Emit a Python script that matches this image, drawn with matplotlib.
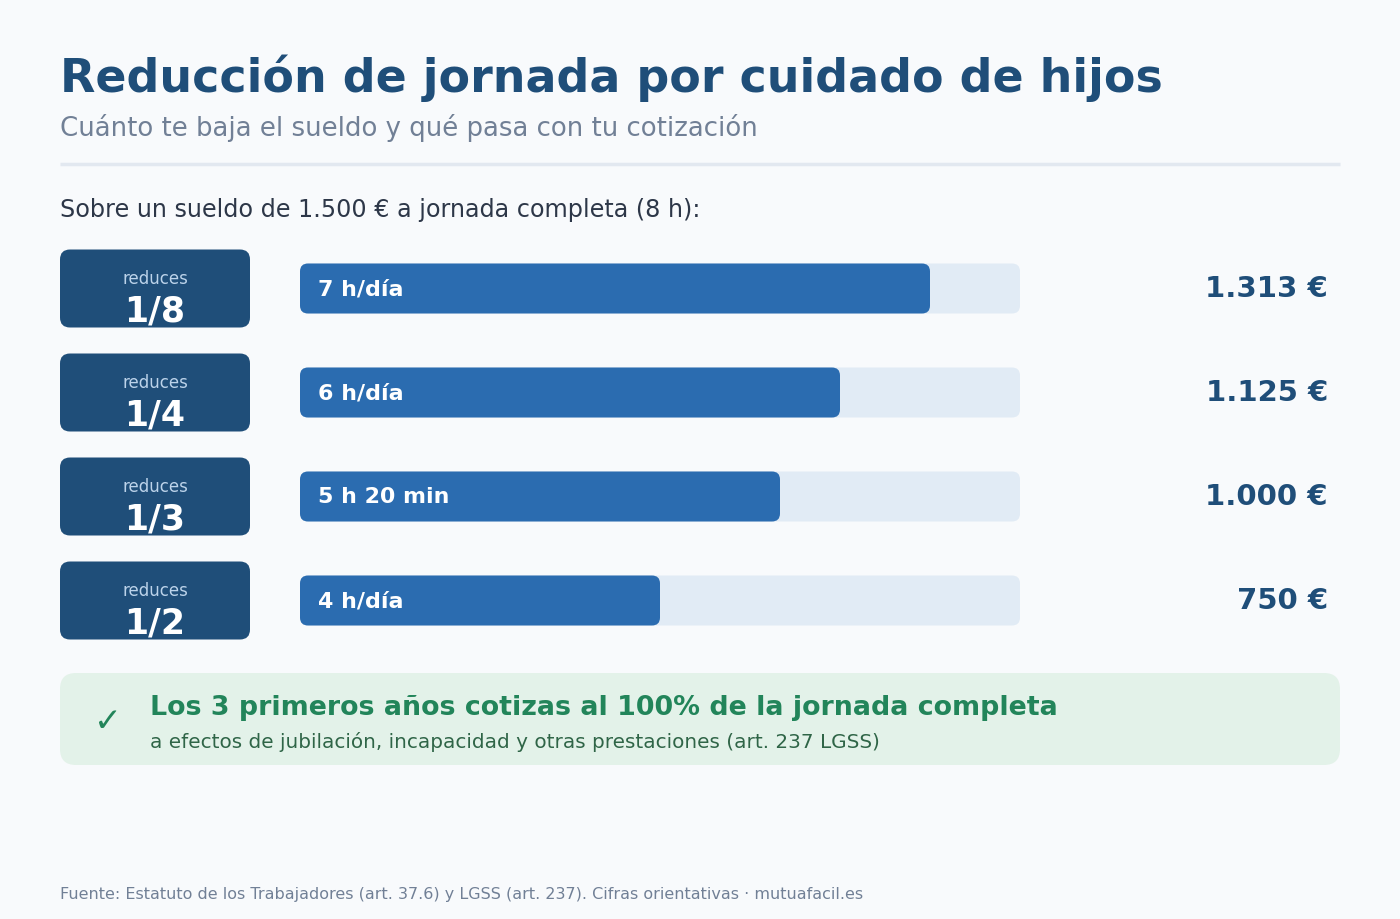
import matplotlib
matplotlib.use("Agg")
import matplotlib.pyplot as plt
from matplotlib.patches import FancyBboxPatch

plt.rcParams["font.family"] = ["DejaVu Sans"]

# Data
FULL_HOURS = 8
fractions = ["1/8", "1/4", "1/3", "1/2"]
hour_labels = ["7 h/día", "6 h/día", "5 h 20 min", "4 h/día"]
hours = [7, 6, 16 / 3, 4]
salaries = ["1.313 €", "1.125 €", "1.000 €", "750 €"]

# Colours
BG = "#f8fafc"
NAVY = "#1f4e79"
BAR = "#2b6cb0"
TRACK = "#e1ebf5"
GREEN = "#22855a"
GREEN_BG = "#e3f2e9"
GREEN_DARK = "#2f6547"
GREY = "#718096"
TEXT = "#2d3748"

W, H = 1400, 920
fig = plt.figure(figsize=(W / 100, H / 100), dpi=100, facecolor=BG)

# Full-figure axes in pixel coordinates for layout
ax = fig.add_axes([0, 0, 1, 1])
ax.set_xlim(0, W)
ax.set_ylim(H, 0)
ax.axis("off")
ax.set_facecolor(BG)

ax.text(60, 78, "Reducción de jornada por cuidado de hijos", fontsize=33,
        fontweight="bold", color=NAVY, va="center", ha="left")
ax.text(60, 128, "Cuánto te baja el sueldo y qué pasa con tu cotización",
        fontsize=18.7, color=GREY, va="center", ha="left")
ax.plot([60, 1340], [165, 165], color="#e2e8f0", lw=2.5, solid_capstyle="butt")
ax.text(60, 210, "Sobre un sueldo de 1.500 € a jornada completa (8 h):",
        fontsize=17.2, color=TEXT, va="center", ha="left")

row_y = [289.5, 393.5, 497.5, 601.5]
for y, frac, sal in zip(row_y, fractions, salaries):
    pill = FancyBboxPatch((60, y - 39), 190, 78,
                          boxstyle="round,pad=0,rounding_size=10",
                          fc=NAVY, ec="none")
    ax.add_patch(pill)
    ax.text(155, y - 10, "reduces", fontsize=12, color="#bcd3ea",
            ha="center", va="center")
    ax.text(155, y + 22.5, frac, fontsize=25, fontweight="bold", color="white",
            ha="center", va="center")
    ax.text(1328, y, sal, fontsize=21, fontweight="bold", color=NAVY,
            ha="right", va="center")

# Bars on their own axes, x in hours
bar_top, bar_bottom = 250, 640
bax = fig.add_axes([300 / W, (H - bar_bottom) / H, 720 / W, (bar_bottom - bar_top) / H])
bax.set_xlim(0, FULL_HOURS)
bax.set_ylim(bar_bottom, bar_top)
bax.axis("off")
bax.patch.set_alpha(0)
px_per_hour = 720 / FULL_HOURS
r = 8 / px_per_hour
for y, hv, lab in zip(row_y, hours, hour_labels):
    bax.add_patch(FancyBboxPatch((0, y - 25), FULL_HOURS, 50,
                                 boxstyle=f"round,pad=0,rounding_size={r}",
                                 mutation_aspect=px_per_hour, fc=TRACK, ec="none"))
    bax.add_patch(FancyBboxPatch((0, y - 25), hv, 50,
                                 boxstyle=f"round,pad=0,rounding_size={r}",
                                 mutation_aspect=px_per_hour, fc=BAR, ec="none"))
    bax.text(18 / px_per_hour, y, lab, fontsize=15.9, fontweight="bold",
             color="white", ha="left", va="center")

# Green note box
ax.add_patch(FancyBboxPatch((60, 674), 1280, 92,
                            boxstyle="round,pad=0,rounding_size=16",
                            fc=GREEN_BG, ec="none"))
ax.text(108, 722, "✓", fontsize=24, color=GREEN, ha="center", va="center")
ax.text(150, 708, "Los 3 primeros años cotizas al 100% de la jornada completa",
        fontsize=19.4, fontweight="bold", color=GREEN, ha="left", va="center")
ax.text(150, 742, "a efectos de jubilación, incapacidad y otras prestaciones (art. 237 LGSS)",
        fontsize=14.4, color=GREEN_DARK, ha="left", va="center")

ax.text(60, 895, "Fuente: Estatuto de los Trabajadores (art. 37.6) y LGSS (art. 237). "
        "Cifras orientativas · mutuafacil.es", fontsize=11.5, color=GREY,
        ha="left", va="center")

fig.savefig("out.png", dpi=100, facecolor=BG)
